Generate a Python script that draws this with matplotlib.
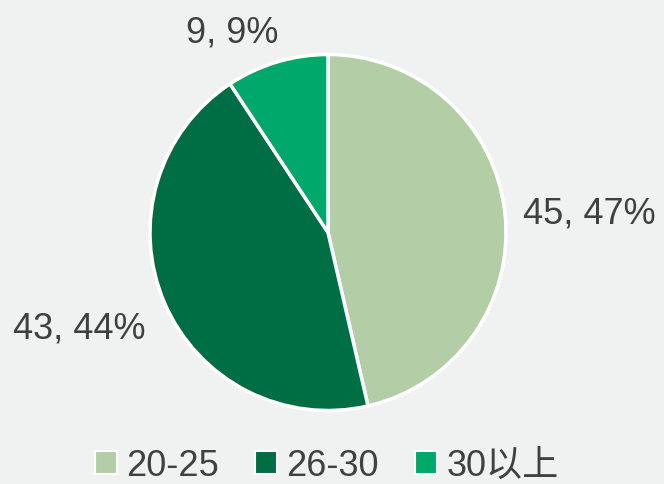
import matplotlib
matplotlib.use("Agg")
import matplotlib.pyplot as plt
from matplotlib.patches import Patch

categories = ["20-25", "26-30", "30以上"]
values = [45, 43, 9]
percent_labels = ["47%", "44%", "9%"]
colors = ["#b3cea6", "#006e45", "#00a86b"]

plt.rcParams['font.family'] = ['Liberation Sans', 'Noto Sans CJK SC', 'DejaVu Sans']

W, H = 664, 484
fig = plt.figure(figsize=(W / 100, H / 100), dpi=100)
bg = "#f0f2f2"
fig.patch.set_facecolor(bg)

cx, cy, r = 328, 232.5, 178
ax = fig.add_axes([(cx - r) / W, (H - cy - r) / H, 2 * r / W, 2 * r / H])
ax.set_facecolor("none")

wedges, _ = ax.pie(values, colors=colors, startangle=90, counterclock=False,
                   wedgeprops=dict(edgecolor="white", linewidth=2.5))
ax.set_xlim(-1, 1)
ax.set_ylim(-1, 1)
ax.set_aspect("equal")
ax.axis("off")

label_xy = [(1.47, 0.053), (-1.40, -0.593), (-0.54, 1.07)]
for v, p, (x, y) in zip(values, percent_labels, label_xy):
    ax.text(x, y, f"{v}, {p}", ha="center", va="baseline", fontsize=26,
            color="#404040", clip_on=False)

handles = [Patch(facecolor=c, edgecolor="white", linewidth=1.5) for c in colors]
leg = fig.legend(handles, categories, loc="center", bbox_to_anchor=(0.492, (H - 466) / H),
                 ncol=3, frameon=False, fontsize=26, handlelength=0.62, handleheight=0.62,
                 handletextpad=0.25, columnspacing=1.0, borderpad=0)
for t in leg.get_texts():
    t.set_color("#404040")

fig.savefig("out.png", dpi=100, facecolor=bg)
